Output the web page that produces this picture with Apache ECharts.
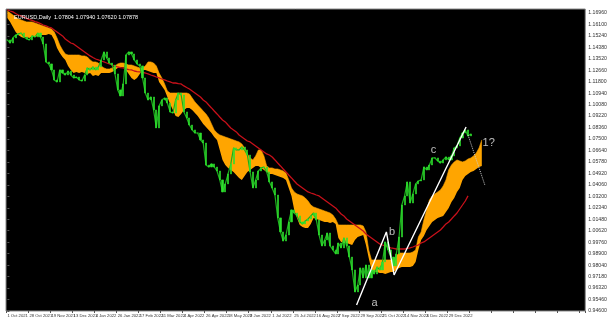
<!DOCTYPE html>
<html>
<head>
<meta charset="utf-8">
<script src="https://cdn.jsdelivr.net/npm/echarts@6/dist/echarts.min.js"></script>
<style>
html,body{margin:0;padding:0;background:#fff;}
#chart{width:610px;height:321px;}
</style>
</head>
<body>
<div id="chart"></div>
<script>
// ---- data (EURUSD, Daily; one slot = 2 trading days) ----
const dateLabels = ['1 Oct 2021','28 Oct 2021','19 Nov 2021','13 Dec 2021','4 Jan 2022','26 Jan 2022','17 Feb 2022','11 Mar 2022','4 Apr 2022','26 Apr 2022','18 May 2022','9 Jun 2022','1 Jul 2022','25 Jul 2022','16 Aug 2022','7 Sep 2022','29 Sep 2022','21 Oct 2022','14 Nov 2022','6 Dec 2022','29 Dec 2022'];

const closes = [1.1493,1.1470,1.1508,1.1530,1.1538,1.1545,1.1515,1.1500,1.1493,1.1523,
1.1515,1.1545,1.1515,1.1463,1.1328,1.1313,1.1268,1.1193,1.1178,1.1268,
1.1245,1.1230,1.1260,1.1230,1.1208,1.1215,1.1193,1.1185,1.1230,1.1283,
1.1268,1.1290,1.1268,1.1290,1.1343,1.1403,1.1358,1.1320,1.1305,1.1238,
1.1118,1.1073,1.1163,1.1380,1.1403,1.1388,1.1343,1.1313,1.1298,1.1208,
1.1095,1.1043,1.1065,1.0968,1.0833,1.0998,1.1043,1.1058,1.1020,1.0953,
1.0945,1.1043,1.1095,1.1080,1.0953,1.0908,1.0855,1.0818,1.0795,1.0795,
1.0743,1.0720,1.0555,1.0540,1.0563,1.0540,1.0510,1.0443,1.0353,1.0413,
1.0488,1.0563,1.0683,1.0668,1.0668,1.0690,1.0668,1.0630,1.0503,1.0383,
1.0443,1.0510,1.0533,1.0540,1.0503,1.0428,1.0383,1.0330,1.0158,1.0053,
0.9985,1.0030,1.0128,1.0218,1.0195,1.0173,1.0128,1.0113,1.0135,1.0150,
1.0173,1.0195,1.0143,1.0030,0.9948,0.9993,1.0045,0.9948,0.9918,0.9888,
0.9970,0.9933,1.0008,0.9948,0.9865,0.9768,0.9603,0.9655,0.9783,0.9708,
0.9805,0.9708,0.9768,0.9738,0.9790,0.9768,0.9828,0.9978,0.9918,0.9865,
0.9798,0.9888,1.0015,1.0255,1.0323,1.0428,1.0270,1.0338,1.0413,1.0435,
1.0443,1.0540,1.0518,1.0555,1.0608,1.0608,1.0585,1.0570,1.0593,1.0615,
1.0593,1.0623,1.0683,1.0698,1.0758,1.0795,1.0818,1.0773,1.0788];

const maLine = [1.1718,1.1710,1.1703,1.1691,1.1680,1.1673,1.1665,1.1654,1.1646,1.1639,
1.1631,1.1624,1.1616,1.1605,1.1598,1.1590,1.1583,1.1568,1.1553,1.1538,
1.1523,1.1500,1.1485,1.1470,1.1463,1.1448,1.1433,1.1418,1.1403,1.1388,
1.1373,1.1361,1.1350,1.1343,1.1335,1.1328,1.1320,1.1313,1.1305,1.1298,
1.1290,1.1286,1.1283,1.1275,1.1271,1.1268,1.1260,1.1256,1.1253,1.1249,
1.1245,1.1238,1.1230,1.1223,1.1215,1.1208,1.1200,1.1193,1.1185,1.1178,
1.1170,1.1170,1.1166,1.1163,1.1148,1.1136,1.1125,1.1110,1.1095,1.1080,
1.1065,1.1043,1.1028,1.1005,1.0983,1.0960,1.0938,1.0915,1.0893,1.0878,
1.0855,1.0833,1.0818,1.0803,1.0780,1.0765,1.0750,1.0735,1.0728,1.0713,
1.0698,1.0683,1.0668,1.0653,1.0638,1.0630,1.0615,1.0593,1.0570,1.0548,
1.0525,1.0503,1.0480,1.0458,1.0435,1.0413,1.0398,1.0383,1.0368,1.0353,
1.0345,1.0338,1.0330,1.0323,1.0308,1.0293,1.0278,1.0263,1.0248,1.0233,
1.0210,1.0188,1.0173,1.0150,1.0135,1.0120,1.0105,1.0090,1.0075,1.0060,
1.0038,1.0023,1.0008,0.9993,0.9978,0.9963,0.9955,0.9948,0.9940,0.9933,
0.9929,0.9925,0.9925,0.9925,0.9925,0.9929,0.9933,0.9940,0.9948,0.9955,
0.9970,0.9978,0.9993,1.0008,1.0023,1.0038,1.0053,1.0068,1.0090,1.0113,
1.0128,1.0150,1.0173,1.0195,1.0225,1.0255,1.0285,1.0323];

const cloudHigh = [1.1710,1.1695,1.1680,1.1665,1.1650,1.1643,1.1635,1.1628,1.1628,1.1628,
1.1620,1.1613,1.1605,1.1598,1.1590,1.1583,1.1575,1.1553,1.1508,1.1455,
1.1418,1.1388,1.1380,1.1380,1.1380,1.1380,1.1380,1.1373,1.1373,1.1365,
1.1343,1.1328,1.1328,1.1320,1.1298,1.1283,1.1275,1.1275,1.1283,1.1298,
1.1313,1.1320,1.1320,1.1313,1.1305,1.1305,1.1298,1.1290,1.1283,1.1283,
1.1298,1.1328,1.1328,1.1320,1.1298,1.1245,1.1208,1.1163,1.1110,1.1095,
1.1095,1.1095,1.1095,1.1095,1.1095,1.1095,1.1088,1.1058,1.1028,1.1005,
1.0983,1.0960,1.0938,1.0908,1.0863,1.0818,1.0795,1.0780,1.0773,1.0765,
1.0758,1.0750,1.0743,1.0735,1.0728,1.0713,1.0683,1.0638,1.0608,1.0593,
1.0623,1.0668,1.0668,1.0623,1.0548,1.0533,1.0533,1.0525,1.0525,1.0518,
1.0510,1.0495,1.0443,1.0383,1.0353,1.0338,1.0330,1.0323,1.0308,1.0285,
1.0255,1.0240,1.0233,1.0225,1.0218,1.0210,1.0203,1.0195,1.0180,1.0150,
1.0105,1.0105,1.0105,1.0105,1.0105,1.0105,1.0105,1.0105,1.0105,1.0098,
1.0053,0.9918,0.9843,0.9843,0.9843,0.9843,0.9843,0.9843,0.9843,0.9843,
0.9850,0.9873,0.9895,0.9895,0.9895,0.9895,0.9895,0.9903,0.9918,1.0015,
1.0053,1.0143,1.0218,1.0293,1.0323,1.0338,1.0353,1.0368,1.0398,1.0443,
1.0518,1.0555,1.0578,1.0593,1.0585,1.0578,1.0585,1.0600,1.0608,1.0623,
1.0645,1.0683,1.0743];

const cloudLow = [1.1658,1.1628,1.1590,1.1553,1.1530,1.1515,1.1508,1.1515,1.1508,1.1523,
1.1515,1.1523,1.1530,1.1530,1.1530,1.1538,1.1530,1.1493,1.1433,1.1395,
1.1365,1.1343,1.1298,1.1268,1.1245,1.1253,1.1245,1.1253,1.1245,1.1238,
1.1245,1.1223,1.1230,1.1223,1.1245,1.1245,1.1245,1.1245,1.1253,1.1268,
1.1283,1.1290,1.1290,1.1268,1.1238,1.1208,1.1193,1.1208,1.1238,1.1268,
1.1268,1.1260,1.1253,1.1245,1.1245,1.1178,1.1148,1.1118,1.1065,1.1013,
1.0968,1.0923,1.0915,1.0938,1.0968,1.0983,1.0983,1.0968,1.0945,1.0923,
1.0893,1.0863,1.0840,1.0818,1.0795,1.0765,1.0743,1.0668,1.0593,1.0555,
1.0533,1.0518,1.0503,1.0480,1.0458,1.0443,1.0473,1.0503,1.0518,1.0533,
1.0548,1.0548,1.0533,1.0518,1.0503,1.0488,1.0488,1.0480,1.0473,1.0465,
1.0458,1.0443,1.0383,1.0323,1.0218,1.0158,1.0105,1.0090,1.0083,1.0083,
1.0113,1.0158,1.0150,1.0143,1.0135,1.0128,1.0128,1.0120,1.0128,1.0113,
1.0008,0.9978,0.9970,0.9970,0.9963,0.9955,0.9993,1.0015,1.0023,1.0030,
0.9955,0.9858,0.9768,0.9753,0.9753,0.9745,0.9745,0.9738,0.9745,0.9753,
0.9753,0.9768,0.9783,0.9790,0.9790,0.9790,0.9790,0.9798,0.9828,0.9918,
0.9993,1.0023,1.0068,1.0098,1.0128,1.0143,1.0158,1.0165,1.0173,1.0203,
1.0233,1.0278,1.0308,1.0353,1.0383,1.0443,1.0473,1.0488,1.0503,1.0510,
1.0525,1.0540,1.0548];

// hand-drawn wave annotation (slot index, price)
const waveX = [126.6, 137.4, 140.2, 166.3];
const waveY = [0.9505, 1.0053, 0.9730, 1.0840];
const projX = [167.0, 173.1];
const projY = [1.0780, 1.0405];
const waveLabels = [
  {name:'a',  x:133.1, y:0.9520},
  {name:'b',  x:139.5, y:1.0053},
  {name:'c',  x:154.5, y:1.0668},
  {name:'1?', x:174.5, y:1.0720}
];
const headerText = 'EURUSD,Daily  1.07804 1.07940 1.07620 1.07878';

// ---- layout ----
const N_SLOTS = 210;
const cats = Array.from({length:N_SLOTS}, (_, i) => (i % 8 === 0 && dateLabels[i/8]) ? dateLabels[i/8] : '');
const candles = closes.map((c, i) => { const o = i ? closes[i-1] : c; return [o, c, Math.min(o,c), Math.max(o,c)]; });
const band = cloudHigh.map((h, i) => +(h - cloudLow[i]).toFixed(5));
const lastClose = closes[closes.length-1];
const GREEN = '#2ee02e';
const FONT = 'Liberation Sans, Arial, sans-serif';

const chart = echarts.init(document.getElementById('chart'), null, {renderer:'canvas'});
chart.setOption({
  animation: false,
  backgroundColor: '#ffffff',
  title: {
    text: headerText, left: 9, top: 9,
    textStyle: {color:'#ffffff', fontSize: 5.5, fontWeight:'normal', fontFamily: FONT}
  },
  grid: {left: 6, right: 16, top: 9, bottom: 10, show: true, backgroundColor:'#000000', borderColor:'#8a8a8a', borderWidth: 1},
  xAxis: [{
    type: 'category', data: cats, boundaryGap: true,
    axisLine: {show: false},
    axisTick: {show: true, length: 2, interval: (i) => i % 8 === 0, lineStyle:{color:'#555'}},
    axisLabel: {interval: (i) => i % 8 === 0, align:'left', fontSize: 4.2, color:'#333', margin: 2.5,
      fontFamily: FONT, showMinLabel: true, hideOverlap: false},
    splitLine: {show: false}
  }, {
    type: 'value', min: -0.5, max: N_SLOTS - 0.5, show: false
  }],
  yAxis: {
    type: 'value', position: 'right', min: 0.946, max: 1.1725, interval: 0.0086,
    axisLine: {show: false},
    axisTick: {show: true, length: 2, lineStyle:{color:'#555'}},
    axisLabel: {fontSize: 5.2, color:'#333', margin: 3, showMaxLabel: false, fontFamily: FONT,
      formatter: (v) => v.toFixed(5)},
    splitLine: {show: false}
  },
  series: [
    {type:'line', name:'kumoBase', data: cloudLow, stack:'kumo', symbol:'none', lineStyle:{width:0}, z:1, silent:true},
    {type:'line', name:'kumo', data: band, stack:'kumo', symbol:'none', lineStyle:{width:0.6, color:'#ffa500'},
      areaStyle:{color:'#ffa500', opacity:1}, z:1, silent:true},
    {type:'line', name:'MA', data: maLine, symbol:'none', lineStyle:{width:1.3, color:'#c8101a'}, z:3},
    {type:'line', name:'price', data: closes, symbol:'none', lineStyle:{width:1.2, color:'#1cb01c'}, z:4},
    {type:'candlestick', name:'EURUSD', data: candles, barWidth: 1.6, z:5,
      itemStyle:{color:GREEN, color0:GREEN, borderColor:GREEN, borderColor0:GREEN, borderWidth:0.6},
      markLine:{silent:true, symbol:'none', data:[{yAxis:lastClose}], lineStyle:{opacity:0},
        label:{show:true, position:'end', formatter: lastClose.toFixed(5), backgroundColor:'#f2f2f2',
          borderColor:'#9a9a9a', borderWidth:0.5,
          color:'#000', fontSize:5.2, padding:[1,2], distance:1, fontFamily: FONT}}},
    {type:'line', name:'wave', xAxisIndex:1, data: waveX.map((x,i)=>[x, waveY[i]]), symbol:'none',
      lineStyle:{width:1.4, color:'#ffffff'}, z:6},
    {type:'line', name:'projection', xAxisIndex:1, data: projX.map((x,i)=>[x, projY[i]]), symbol:'none',
      lineStyle:{width:1, color:'#cccccc', type:'dotted'}, z:6},
    {type:'scatter', name:'labels', xAxisIndex:1, symbolSize:0, z:7,
      data: waveLabels.map(d => ({name:d.name, value:[d.x, d.y]})),
      label:{show:true, position:'inside', formatter:(p)=>p.name, color:'#e8e8e8', fontSize:11, fontFamily: FONT}}
  ]
});
</script>
</body>
</html>
